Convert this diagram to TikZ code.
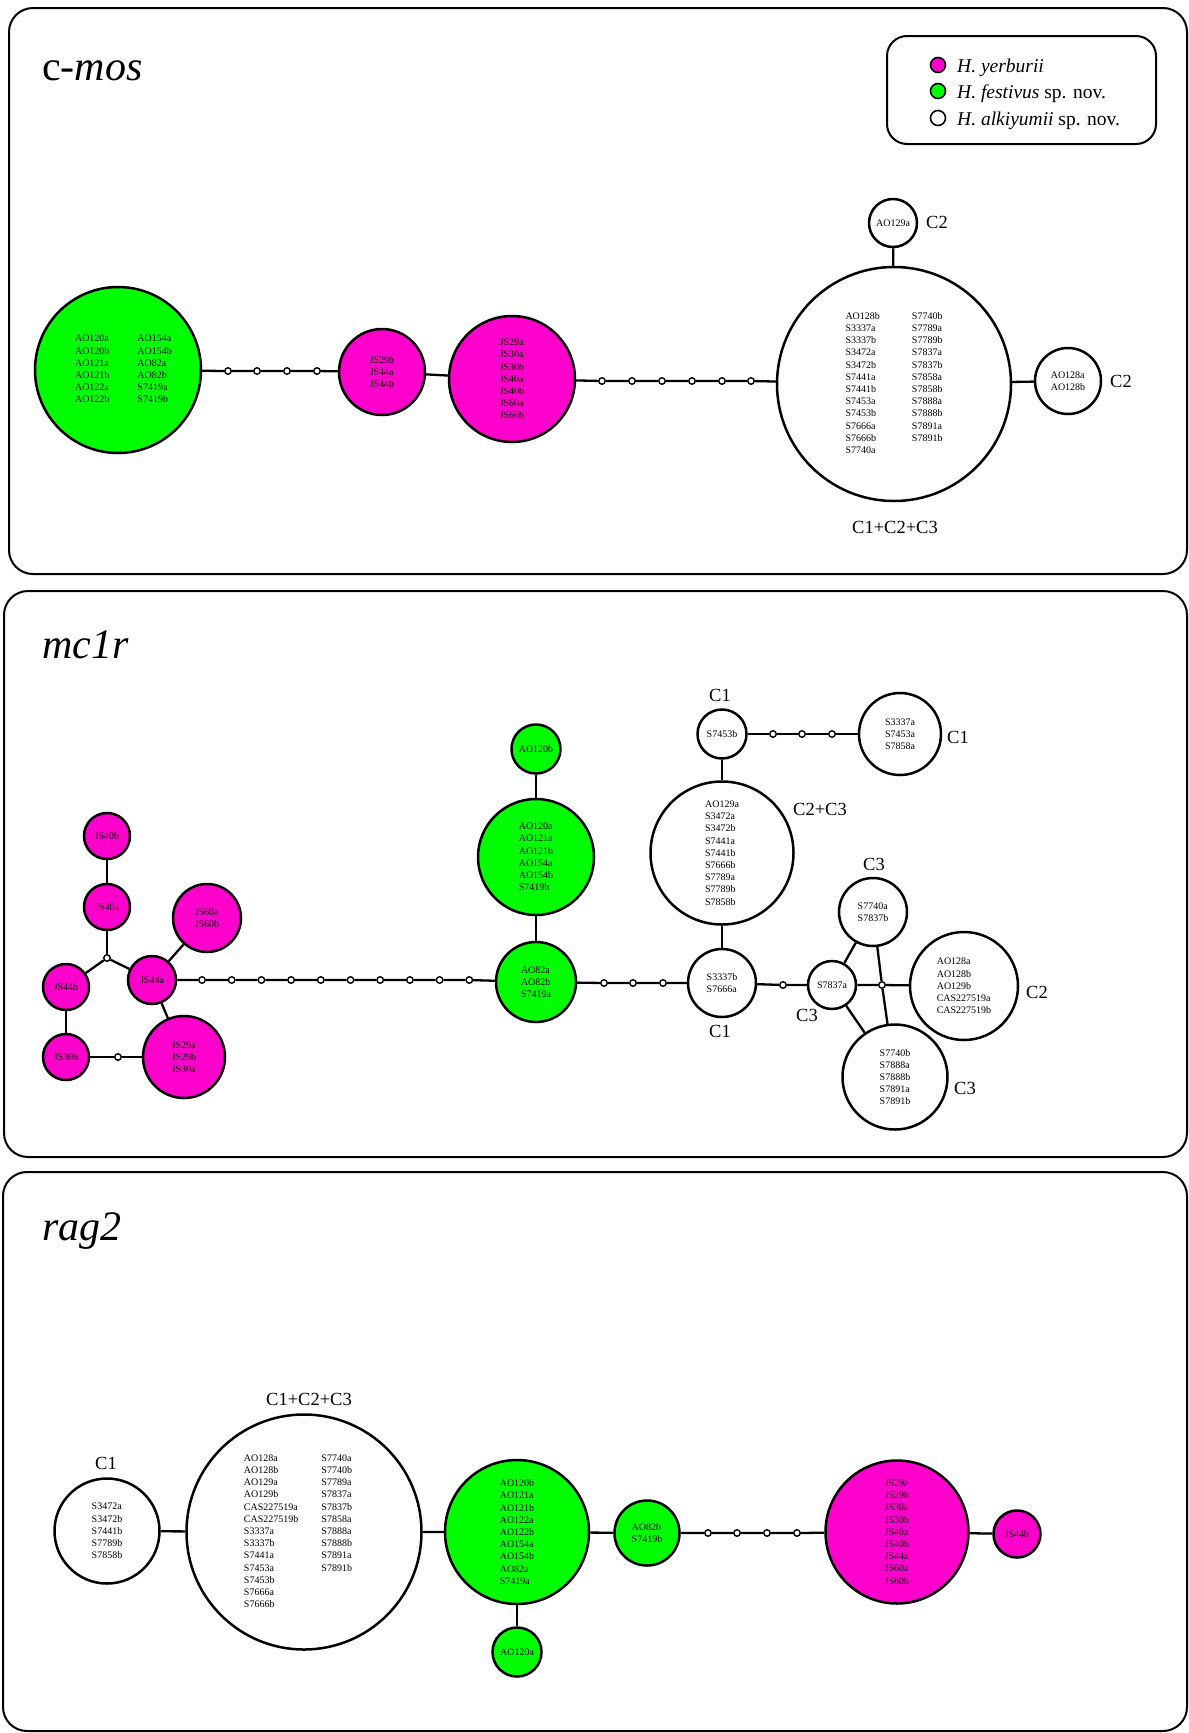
\documentclass[tikz,border=0pt]{standalone}
\usepackage{fontspec}
\setmainfont{Liberation Serif}
\definecolor{yercol}{RGB}{255,0,204}
\definecolor{fescol}{RGB}{0,255,0}
\tikzset{
  hap/.style={circle, draw=black, line width=2.5pt, inner sep=0pt,
    minimum size=#1, font=\fontsize{10}{12.2}\selectfont, align=left},
  yer/.style={hap=#1, fill=yercol},
  fes/.style={hap=#1, fill=fescol},
  alk/.style={hap=#1, fill=white},
  tab/.style={circle, draw=black, line width=2.5pt, inner sep=0pt,
    minimum size=#1, font=\fontsize{10}{12.2}\selectfont},
  mv/.style={circle, draw=black, fill=white, line width=1.4pt,
    inner sep=0pt, minimum size=6.5pt},
  link/.style={line width=2.3pt},
  grp/.style={inner sep=0pt, font=\fontsize{18.5}{20}\selectfont},
  panel/.style={draw=black, line width=2pt, rounded corners=24pt},
  gene/.style={anchor=base west, inner sep=0pt, font=\fontsize{42}{44}\selectfont},
  legdot/.style={circle, draw=black, line width=1.6pt, inner sep=0pt, minimum size=15pt},
  legtxt/.style={anchor=base west, inner sep=0pt, font=\fontsize{19.5}{21}\selectfont},
}
\begin{document}
\begin{tikzpicture}[x=1pt,y=-1pt]
\useasboundingbox (0,0) rectangle (1189,1733);

% ---------- panel frames ----------
\draw[panel] (9,8) rectangle (1187,574);
\draw[panel] (4,591) rectangle (1187,1157);
\draw[panel] (3,1172) rectangle (1187,1731);

% ---------- c-mos ----------
\node[gene] (tcmos) at (42,80) {c-\textit{mos}};

% legend
\draw[draw=black, line width=2pt, rounded corners=20pt] (887,36) rectangle (1156,144);
\node[legdot, fill=yercol] (lg1) at (938,65) {};
\node[legdot, fill=fescol] (lg2) at (938,91) {};
\node[legdot, fill=white]  (lg3) at (938,118) {};
\node[legtxt] (lt1) at (957,72) {\textit{H. yerburii}};
\node[legtxt] (lt2) at (957,98) {\textit{H. festivus} sp. nov.};
\node[legtxt] (lt3) at (957,125) {\textit{H. alkiyumii} sp. nov.};

\node[tab=166, fill=fescol] (cg) at (118,370) {\begin{tabular}{@{\hspace{11pt}}l@{\hspace{28pt}}l@{}}
AO120a & AO154a\\ AO120b & AO154b\\ AO121a & AO82a\\
AO121b & AO82b\\ AO122a & S7419a\\ AO122b & S7419b\end{tabular}};
\node[mv] (c1) at (228,371) {};
\node[mv] (c2) at (257,371) {};
\node[mv] (c3) at (287,371) {};
\node[mv] (c4) at (317,371) {};
\node[yer=86] (cy1) at (382,372) {JS29b\\JS44a\\JS44b};
\node[yer=126] (cy2) at (512,379) {JS29a\\JS30a\\JS30b\\JS40a\\JS40b\\JS60a\\JS60b};
\node[mv] (c5) at (602,381) {};
\node[mv] (c6) at (632,381) {};
\node[mv] (c7) at (662,381) {};
\node[mv] (c8) at (692,381) {};
\node[mv] (c9) at (722,381) {};
\node[mv] (c10) at (751,381) {};
\node[tab=234, fill=white] (ca) at (894,384) {\begin{tabular}{@{}l@{\hspace{32pt}}l@{}}
AO128b & S7740b\\ S3337a & S7789a\\ S3337b & S7789b\\ S3472a & S7837a\\
S3472b & S7837b\\ S7441a & S7858a\\ S7441b & S7858b\\ S7453a & S7888a\\
S7453b & S7888b\\ S7666a & S7891a\\ S7666b & S7891b\\ S7740a & \end{tabular}};
\node[alk=48] (ca2) at (893,223) {AO129a};
\node[alk=66] (ca3) at (1068,381) {AO128a\\AO128b};
\node[grp] (lc1) at (937,222) {C2};
\node[grp] (lc2) at (1121,381) {C2};
\node[grp] (lc3) at (895,527) {C1+C2+C3};

\draw[link] (cg) -- (c1) -- (c2) -- (c3) -- (c4) -- (cy1) -- (cy2)
  -- (c5) -- (c6) -- (c7) -- (c8) -- (c9) -- (c10) -- (ca);
\draw[link] (ca2) -- (ca);
\draw[link] (ca) -- (ca3);

% ---------- mc1r ----------
\node[gene] (tmc1r) at (42,658) {\textit{mc1r}};

\node[yer=46] (m40b) at (107,836) {JS40b};
\node[yer=46] (m40a) at (107,907) {JS40a};
\node[mv] (mj1) at (107,958) {};
\node[yer=46] (m44b) at (66,987) {JS44b};
\node[yer=46] (m30b) at (66,1057) {JS30b};
\node[yer=48] (m44a) at (152,980) {JS44a};
\node[yer=68] (m60) at (207,918) {JS60a\\JS60b};
\node[yer=82] (m29) at (184,1057) {JS29a\\JS29b\\JS30a};
\node[mv] (mj2) at (118,1057) {};
\foreach \i in {1,...,10} {
  \node[mv] (md\i) at ({202+29.7*(\i-1)},980) {};
}
\node[fes=80] (m82) at (536,982) {AO82a\\AO82b\\S7419a};
\node[fes=116] (m120a) at (536,857) {AO120a\\AO121a\\AO121b\\AO154a\\AO154b\\S7419b};
\node[fes=49] (m120b) at (536,749) {AO120b};
\node[mv] (me1) at (604,983) {};
\node[mv] (me2) at (633,983) {};
\node[mv] (me3) at (663,983) {};
\node[alk=68] (m3337b) at (722,983) {S3337b\\S7666a};
\node[alk=143] (m129a) at (722,853) {AO129a\\S3472a\\S3472b\\S7441a\\S7441b\\S7666b\\S7789a\\S7789b\\S7858b};
\node[alk=49] (m7453b) at (722,734) {S7453b};
\node[mv] (mf1) at (773,734) {};
\node[mv] (mf2) at (802,734) {};
\node[mv] (mf3) at (832,734) {};
\node[alk=82] (m3337a) at (900,734) {S3337a\\S7453a\\S7858a};
\node[mv] (mg1) at (783,985) {};
\node[alk=48] (m7837a) at (832,985) {S7837a};
\node[mv] (mj3) at (882,985) {};
\node[alk=108] (m128) at (964,986) {AO128a\\AO128b\\AO129b\\CAS227519a\\CAS227519b};
\node[alk=68] (m7740a) at (873,912) {S7740a\\S7837b};
\node[alk=105] (m7740b) at (895,1077) {S7740b\\S7888a\\S7888b\\S7891a\\S7891b};

\node[grp] (lm1) at (720,695) {C1};
\node[grp] (lm2) at (820,809) {C2+C3};
\node[grp] (lm3) at (958,737) {C1};
\node[grp] (lm4) at (720,1031) {C1};
\node[grp] (lm5) at (874,864) {C3};
\node[grp] (lm6) at (807,1015) {C3};
\node[grp] (lm7) at (1037,992) {C2};
\node[grp] (lm8) at (965,1088) {C3};

\draw[link] (m40b) -- (m40a) -- (mj1);
\draw[link] (mj1) -- (m44b);
\draw[link] (mj1) -- (m44a);
\draw[link] (m44b) -- (m30b) -- (mj2) -- (m29);
\draw[link] (m44a) -- (m29);
\draw[link] (m44a) -- (m60);
\draw[link] (m44a) -- (md1) -- (md2) -- (md3) -- (md4) -- (md5) -- (md6)
  -- (md7) -- (md8) -- (md9) -- (md10) -- (m82);
\draw[link] (m120b) -- (m120a) -- (m82);
\draw[link] (m82) -- (me1) -- (me2) -- (me3) -- (m3337b);
\draw[link] (m3337b) -- (m129a) -- (m7453b);
\draw[link] (m7453b) -- (mf1) -- (mf2) -- (mf3) -- (m3337a);
\draw[link] (m3337b) -- (mg1) -- (m7837a) -- (mj3) -- (m128);
\draw[link] (m7740a) -- (mj3) -- (m7740b);
\draw[link] (m7837a) -- (m7740a);
\draw[link] (m7837a) -- (m7740b);

% ---------- rag2 ----------
\node[gene] (trag2) at (42,1240) {\textit{rag2}};

\node[alk=105] (r1) at (107,1531) {S3472a\\S3472b\\S7441b\\S7789b\\S7858b};
\node[tab=235, fill=white] (r2) at (304,1532) {\begin{tabular}{@{}l@{\hspace{23pt}}l@{\hspace{12pt}}}
AO128a & S7740a\\ AO128b & S7740b\\ AO129a & S7789a\\ AO129b & S7837a\\
CAS227519a & S7837b\\ CAS227519b & S7858a\\ S3337a & S7888a\\ S3337b & S7888b\\
S7441a & S7891a\\ S7453a & S7891b\\ S7453b & \\ S7666a & \\ S7666b & \end{tabular}};
\node[fes=144] (r3) at (517,1532) {AO120b\\AO121a\\AO121b\\AO122a\\AO122b\\AO154a\\AO154b\\AO82a\\S7419a};
\node[fes=49] (r4) at (517,1652) {AO120a};
\node[fes=65] (r5) at (647,1533) {AO82b\\S7419b};
\node[mv] (rd1) at (708,1533) {};
\node[mv] (rd2) at (737,1533) {};
\node[mv] (rd3) at (767,1533) {};
\node[mv] (rd4) at (797,1533) {};
\node[yer=143] (r6) at (897,1532) {JS29a\\JS29b\\JS30a\\JS30b\\JS40a\\JS40b\\JS44a\\JS60a\\JS60b};
\node[yer=47] (r7) at (1017,1534) {JS44b};

\node[grp] (lr1) at (106,1463) {C1};
\node[grp] (lr2) at (309,1399) {C1+C2+C3};

\draw[link] (r1) -- (r2) -- (r3) -- (r5) -- (rd1) -- (rd2) -- (rd3) -- (rd4) -- (r6) -- (r7);
\draw[link] (r3) -- (r4);
\end{tikzpicture}
\end{document}
